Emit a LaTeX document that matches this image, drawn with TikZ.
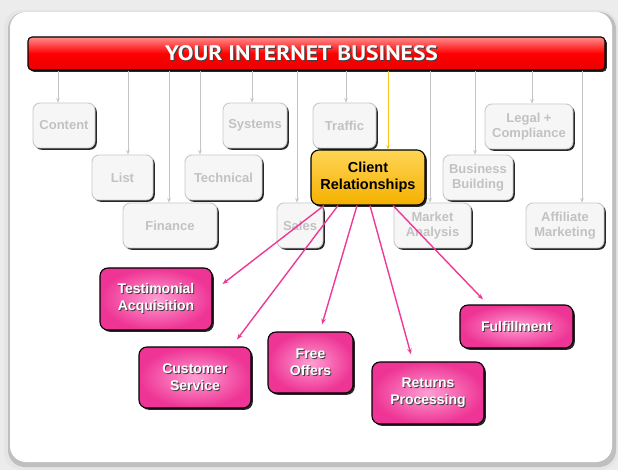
\documentclass[tikz,border=0pt]{standalone}
\usepackage{fontspec}
\setmainfont{Liberation Sans}
\newfontfamily\titlefont{PT Sans}
\usetikzlibrary{arrows.meta,shadows}
\definecolor{bgout}{HTML}{ECECEC}
\definecolor{boxfill}{HTML}{F6F6F6}
\definecolor{boxline}{HTML}{C9C9C9}
\definecolor{boxtext}{HTML}{C2C2C2}
\definecolor{feedline}{HTML}{C4C4C4}
\definecolor{goldhi}{HTML}{FFD555}
\definecolor{goldlo}{HTML}{F4B000}
\definecolor{goldline}{HTML}{F6C41A}
\definecolor{pinkhi}{HTML}{FF9ED3}
\definecolor{pinklo}{HTML}{EE3494}
\definecolor{pinkline}{HTML}{EE3A96}
\newcommand{\shtxt}[1]{\makebox[0pt][l]{\hspace{1pt}\raisebox{-1pt}{\textcolor{black!75}{#1}}}#1}

\begin{document}
\begin{tikzpicture}[x=1pt, y=-1pt,
  hardshadow/.style={drop shadow={shadow xshift=1.8pt, shadow yshift=-1.8pt, fill=black!85, opacity=1}},
  topic/.style={draw=boxline, fill=boxfill, text=boxtext, line width=0.9pt, rounded corners=7pt,
    font=\fontsize{13}{15}\selectfont\bfseries, align=center, inner sep=0pt, hardshadow},
  hub/.style={draw=black, top color=goldhi, bottom color=goldlo, line width=1.1pt, rounded corners=8pt,
    font=\fontsize{14.5}{17}\selectfont\bfseries, align=center, inner sep=0pt, hardshadow},
  task/.style={draw=black, inner color=pinkhi, outer color=pinklo, text=white, line width=1.1pt, rounded corners=8pt,
    font=\fontsize{14}{17}\selectfont\bfseries, align=center, inner sep=0pt, hardshadow},
  feed/.style={draw=feedline, line width=1pt, -{Stealth[length=4.5pt, width=3.5pt]}},
  rel/.style={draw=pinkline, line width=1.4pt, -{Stealth[length=6pt, width=4.5pt]}}]
\useasboundingbox (0,0) rectangle (618,470);
% --- page and panel ---
\fill[bgout] (0,0) rectangle (618,470);
\fill[black!10, rounded corners=18pt] (4,10) rectangle (618,470);
\fill[black!25, rounded corners=17pt] (8,12) rectangle (616,467);
\fill[white, rounded corners=16pt] (10,12) rectangle (612,462);
% --- header bar ---
\node[draw=black, line width=1.1pt, rounded corners=4pt, top color=red!45!white, bottom color=red!92!black,
  middle color=red, minimum width=577pt, minimum height=33pt, inner sep=0pt, hardshadow,
  text=white, font=\titlefont\fontsize{21}{22}\selectfont\bfseries]
  (bar) at (316.5,53.5) {\scalebox{1.12}[1]{\shtxt{YOUR INTERNET BUSINESS}}\kern30pt};
% --- topic boxes ---
\node[topic, minimum width=62pt, minimum height=45pt] (content)   at (64,125.5)   {Content};
\node[topic, minimum width=61pt, minimum height=45pt] (list)      at (122.5,177.5) {List};
\node[topic, minimum width=94pt, minimum height=45pt] (finance)   at (170,225.5)  {Finance};
\node[topic, minimum width=77pt, minimum height=45pt] (technical) at (223.5,177.5) {Technical};
\node[topic, minimum width=64pt, minimum height=45pt] (systems)   at (255,125.5)  {Systems};
\node[topic, minimum width=46pt, minimum height=45pt] (sales)     at (300,225.5)  {Sales};
\node[topic, minimum width=63pt, minimum height=45pt] (traffic)   at (344.5,125.5) {Traffic};
\node[topic, minimum width=77pt, minimum height=45pt] (market)    at (432.5,225.5) {Market\\Analysis};
\node[topic, minimum width=70pt, minimum height=45pt] (business)  at (478,177.5)  {Business\\Building};
\node[topic, minimum width=88pt, minimum height=45pt] (legal)     at (529,126.5)  {Legal +\\Compliance};
\node[topic, minimum width=78pt, minimum height=45pt] (affiliate) at (565,225.5)  {Affiliate\\Marketing};
% --- feeds from the bar ---
\draw[feed] (bar.south -| 58,0)  -- (content.north -| 58,0);
\draw[feed] (bar.south -| 128,0) -- (list.north -| 128,0);
\draw[feed] (bar.south -| 169,0) -- (finance.north -| 169,0);
\draw[feed] (bar.south -| 200,0) -- (technical.north -| 200,0);
\draw[feed] (bar.south -| 252,0) -- (systems.north -| 252,0);
\draw[feed] (bar.south -| 297,0) -- (sales.north -| 297,0);
\draw[feed] (bar.south -| 346,0) -- (traffic.north -| 346,0);
\draw[feed] (bar.south -| 430,0) -- (market.north -| 430,0);
\draw[feed] (bar.south -| 475,0) -- (business.north -| 475,0);
\draw[feed] (bar.south -| 532,0) -- (legal.north -| 532,0);
\draw[feed] (bar.south -| 582,0) -- (affiliate.north -| 582,0);
% --- client relationships ---
\node[hub, minimum width=114pt, minimum height=55pt] (client) at (368,177.5) {Client\\Relationships};
\draw[feed, draw=goldline] (bar.south -| 388,0) -- (client.north -| 388,0);
% --- tasks ---
\node[task, minimum width=112pt, minimum height=62pt] (testimonial) at (156,299)   {\shtxt{Testimonial}\\\shtxt{Acquisition}};
\node[task, minimum width=112pt, minimum height=61pt] (customer)    at (195,377.5) {\shtxt{Customer}\\\shtxt{Service}};
\node[task, minimum width=85pt,  minimum height=61pt] (offers)      at (310.5,362.5) {\shtxt{Free}\\\shtxt{Offers}};
\node[task, minimum width=112pt, minimum height=62pt] (returns)     at (428,393)   {\shtxt{Returns}\\\shtxt{Processing}};
\node[task, minimum width=113pt, minimum height=43pt] (fulfillment) at (516.5,326.5) {\shtxt{Fulfillment}};
\draw[rel] ([xshift=-44pt]client.south) -- ([shift={(10,-15)}]testimonial.east);
\draw[rel] ([xshift=-30pt]client.south) -- ([shift={(42,-7)}]customer.north);
\draw[rel] ([xshift=-11pt]client.south) -- ([shift={(11.5,-7)}]offers.north);
\draw[rel] ([xshift=2pt]client.south)   -- ([shift={(-17,-7)}]returns.north);
\draw[rel] ([xshift=25pt]client.south)  -- ([shift={(-33.5,-5)}]fulfillment.north);
\end{tikzpicture}
\end{document}
